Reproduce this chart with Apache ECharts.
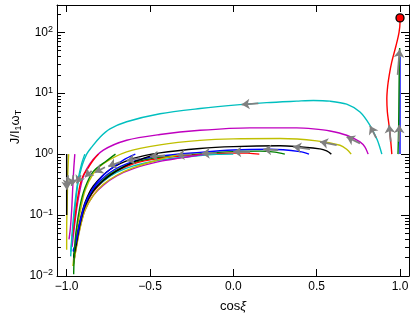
<!DOCTYPE html>
<html><head><meta charset="utf-8">
<script src="https://cdn.jsdelivr.net/npm/echarts@6/dist/echarts.min.js"></script>
<style>html,body{margin:0;padding:0;background:#fff}#c{width:416px;height:318px}</style>
</head><body><div id="c"></div>
<script>
// ---- data ----
const xTicks = [-1.0, -0.5, 0.0, 0.5, 1.0];
const yMajorTicks = [0.01, 0.1, 1, 10, 100];
const yMinorTicks = [0.02,0.03,0.04,0.05,0.06,0.07,0.08,0.09,
  0.2,0.3,0.4,0.5,0.6,0.7,0.8,0.9,
  2,3,4,5,6,7,8,9,
  20,30,40,50,60,70,80,90,200];

// trajectories (cos xi, J / I1 omega_T), one per starting obliquity
const traj00 = [[1.0,1],[1.0,3],[1.0,10],[1.0,40]];
const traj01 = [[0.988,1],[0.992,3],[0.994,10],[0.996,30],[0.998,55]];
const traj02 = [[0.951,1],[0.943,1.8],[0.934,3],[0.924,5],[0.921,8.1],[0.926,13],[0.935,19.5],[0.95,32],[0.976,60],[0.994,99],[1.0,145],[1.0,172]];
const traj03 = [[0.891,1],[0.875,1.4],[0.86,1.8],[0.82,2.97],[0.76,4.9],[0.68,6.6],[0.58,7.4],[0.48,7.6],[0.38,7.4],[0.2,7.0],[0.04,6.5],[-0.2,5.6],[-0.44,4.6],[-0.64,3.4],[-0.74,2.6],[-0.8,1.9],[-0.85,1.3],[-0.88,1.0],[-0.905,0.68],[-0.92,0.48],[-0.935,0.3],[-0.95,0.13],[-0.962,0.06],[-0.972,0.03],[-0.976,0.021]];
const traj04 = [[0.809,1],[0.79,1.3],[0.76,1.59],[0.68,2.04],[0.58,2.4],[0.48,2.6],[0.38,2.7],[0.1,2.7],[-0.2,2.46],[-0.44,2.1],[-0.64,1.69],[-0.78,1.16],[-0.86,0.7],[-0.9,0.43],[-0.925,0.22],[-0.945,0.1],[-0.958,0.05],[-0.968,0.03]];
const traj05 = [[0.707,1],[0.68,1.2],[0.64,1.4],[0.5,1.65],[0.28,1.8],[0.0,1.78],[-0.2,1.68],[-0.44,1.42],[-0.64,1.09],[-0.78,0.7],[-0.84,0.48],[-0.89,0.25],[-0.92,0.11],[-0.945,0.045],[-0.962,0.0146]];
const traj06 = [[0.588,1],[0.56,1.13],[0.52,1.22],[0.28,1.37],[0.0,1.33],[-0.2,1.24],[-0.44,1.05],[-0.6,0.85],[-0.74,0.56],[-0.84,0.3],[-0.89,0.16],[-0.92,0.08],[-0.945,0.035],[-0.958,0.02]];
const traj07 = [[0.454,1.0],[0.4,1.1],[0.22,1.2],[0.0,1.17],[-0.2,1.07],[-0.44,0.93],[-0.6,0.76],[-0.74,0.5],[-0.84,0.27],[-0.89,0.15],[-0.92,0.075],[-0.945,0.035],[-0.96,0.025]];
const traj08 = [[0.309,1.0],[0.25,1.08],[0.16,1.12],[0.0,1.1],[-0.2,1.01],[-0.44,0.88],[-0.6,0.72],[-0.74,0.47],[-0.84,0.25],[-0.89,0.14],[-0.92,0.07],[-0.945,0.03],[-0.955,0.02]];
const traj09 = [[0.156,1.0],[0.04,1.05],[-0.2,0.98],[-0.44,0.85],[-0.6,0.69],[-0.74,0.44],[-0.84,0.24],[-0.89,0.13],[-0.92,0.065],[-0.945,0.028],[-0.956,0.018]];
const traj10 = [[0.0,1.0],[-0.1,0.99],[-0.2,0.95],[-0.32,0.88],[-0.44,0.8],[-0.6,0.64],[-0.7,0.5],[-0.78,0.36],[-0.84,0.25],[-0.89,0.14],[-0.92,0.07],[-0.945,0.03],[-0.958,0.016]];
const traj11 = [[-0.156,1.0],[-0.22,0.95],[-0.32,0.86],[-0.44,0.76],[-0.6,0.58],[-0.7,0.44],[-0.78,0.31],[-0.84,0.21],[-0.89,0.12],[-0.92,0.062],[-0.945,0.027],[-0.957,0.017]];
const traj12 = [[-0.309,1.0],[-0.36,0.93],[-0.44,0.82],[-0.6,0.6],[-0.7,0.45],[-0.78,0.32],[-0.84,0.21],[-0.89,0.12],[-0.92,0.06],[-0.945,0.026],[-0.96,0.0146]];
const traj13 = [[-0.454,1.0],[-0.5,0.93],[-0.6,0.74],[-0.7,0.53],[-0.78,0.37],[-0.84,0.25],[-0.89,0.14],[-0.92,0.07],[-0.945,0.03],[-0.958,0.02]];
const traj14 = [[-0.588,1.0],[-0.66,0.8],[-0.74,0.56],[-0.78,0.45],[-0.84,0.28],[-0.89,0.15],[-0.92,0.075],[-0.945,0.035],[-0.962,0.026]];
const traj15 = [[-0.707,1.0],[-0.76,0.78],[-0.84,0.52],[-0.89,0.28],[-0.92,0.14],[-0.945,0.05],[-0.955,0.02],[-0.958,0.0107]];
const traj16 = [[-0.809,1.0],[-0.84,0.8],[-0.87,0.6],[-0.9,0.45],[-0.92,0.31],[-0.94,0.15],[-0.955,0.07],[-0.966,0.045]];
const traj17 = [[-0.891,1.0],[-0.91,0.7],[-0.93,0.4],[-0.95,0.16],[-0.965,0.06],[-0.975,0.025]];
const traj18 = [[-0.951,1.0],[-0.957,0.6],[-0.963,0.3],[-0.97,0.12],[-0.978,0.06],[-0.986,0.04]];
const traj19 = [[-0.988,1.0],[-0.993,0.5],[-0.997,0.15],[-1.0,0.06],[-1.0,0.027]];
const traj20 = [[-1.0,1.0],[-1.0,0.3],[-1.0,0.1]];

// direction arrows: [cos tail, J tail, cos head, J head]
const arrows = [
  [0.944,1.6,0.935,3.0],[0.994,1.6,0.996,3.0],[0.986,20,0.998,52],
  [0.857,1.85,0.82,2.9],[0.76,1.5,0.68,1.92],[0.62,1.4,0.52,1.59],
  [0.46,1.21,0.36,1.32],[0.27,1.16,0.18,1.19],[0.1,1.08,0.0,1.09],
  [0.15,6.8,0.05,6.5],
  [-0.10,1.04,-0.19,1.02],[-0.25,0.99,-0.34,0.96],[-0.41,0.95,-0.5,0.91],
  [-0.56,0.86,-0.64,0.78],[-0.68,0.74,-0.75,0.63],[-0.77,0.61,-0.83,0.5],
  [-0.85,0.53,-0.89,0.42],[-0.915,0.45,-0.94,0.33],[-0.96,0.45,-0.97,0.3],
  [-0.992,0.45,-0.995,0.28],[-1.0,0.42,-1.0,0.26]
];
const endPoint = [[1.0, 172]];

// ---- styles ----
const cycleColors = ['#0000ff','#008000','#ff0000','#00bfbf','#bf00bf','#bfbf00','#000000'];
const FONT = '"Liberation Sans", Arial, Helvetica, sans-serif';
const trajectories = [traj00,traj01,traj02,traj03,traj04,traj05,traj06,traj07,traj08,traj09,traj10,
  traj11,traj12,traj13,traj14,traj15,traj16,traj17,traj18,traj19,traj20];

const series = trajectories.map((d, i) => ({
  type: 'line', data: d, showSymbol: false, symbol: 'none', smooth: 0.3,
  lineStyle: { color: cycleColors[i % 7], width: 1.4 }, z: 2, silent: true, animation: false
}));
series.push({
  type: 'lines', coordinateSystem: 'cartesian2d', symbol: ['none', 'arrow'], symbolSize: 8,
  lineStyle: { color: '#808080', width: 1.8, opacity: 1, curveness: 0 },
  itemStyle: { color: '#808080' },
  data: arrows.map(a => ({ coords: [[a[0], a[1]], [a[2], a[3]]] })),
  z: 3, silent: true, animation: false
});
series.push({
  type: 'scatter', data: endPoint, symbolSize: 8,
  itemStyle: { color: '#ff0000', borderColor: '#000', borderWidth: 1.3, opacity: 1 },
  z: 4, silent: true, animation: false
});

const xMin = -1.058, xMax = 1.054, yMin = 0.01, yMax = 280;
const fmtX = v => (v < 0 ? '\u2212' : '') + Math.abs(v).toFixed(1);
const fmtY = v => { const e = Math.round(Math.log10(v)); return '{b|10}{s|' + (e < 0 ? '\u2212' : '') + Math.abs(e) + '}'; };
const axisLine = { show: true, onZero: false, lineStyle: { color: '#000', width: 1 } };
const yRich = { b: { fontSize: 12, lineHeight: 15, fontFamily: FONT, color: '#000' },
                s: { fontSize: 9, lineHeight: 9, verticalAlign: 'top', fontFamily: FONT, color: '#000' } };

function yAx(pos, values, len, labels, line) {
  return {
    type: 'log', logBase: 10, min: yMin, max: yMax, position: pos,
    axisLine: Object.assign({}, axisLine, { show: line }),
    axisTick: { show: true, inside: true, length: len, customValues: values, lineStyle: { color: '#000', width: 1 } },
    axisLabel: labels ? { show: true, customValues: values, formatter: fmtY, margin: 4, rich: yRich } : { show: false },
    splitLine: { show: false }, minorTick: { show: false }
  };
}

const option = {
  animation: false,
  backgroundColor: '#fff',
  grid: { left: 57, right: 7, top: 5, bottom: 40, containLabel: false },
  xAxis: [
    { type: 'value', min: xMin, max: xMax, position: 'bottom', axisLine,
      axisTick: { inside: true, length: 7, customValues: xTicks, lineStyle: { color: '#000' } },
      axisLabel: { customValues: xTicks, formatter: fmtX, margin: 5, fontSize: 12, fontFamily: FONT, color: '#000' },
      splitLine: { show: false },
      name: '{a|cos}{b|\u03be}', nameLocation: 'middle', nameGap: 24,
      nameTextStyle: { rich: { a: { fontSize: 13, fontFamily: FONT, color: '#000' },
                               b: { fontSize: 13, fontFamily: FONT, fontStyle: 'italic', color: '#000' } } } },
    { type: 'value', min: xMin, max: xMax, position: 'top', axisLine,
      axisTick: { inside: true, length: 7, customValues: xTicks, lineStyle: { color: '#000' } },
      axisLabel: { show: false }, splitLine: { show: false } }
  ],
  yAxis: [
    yAx('left', yMajorTicks, 8, true, true),
    yAx('left', yMinorTicks, 4, false, false),
    yAx('right', yMajorTicks, 8, false, true),
    yAx('right', yMinorTicks, 4, false, false)
  ],
  graphic: [{
    type: 'text', x: 15, y: 127, rotation: Math.PI / 2,
    style: {
      text: '{a|J/I}{s|1}{a|\u03c9}{s|T}', align: 'center', verticalAlign: 'middle', fill: '#000',
      rich: { a: { fontSize: 13, lineHeight: 16, fontFamily: FONT, fill: '#000' },
              s: { fontSize: 9, lineHeight: 9, verticalAlign: 'bottom', fontFamily: FONT, fill: '#000' } }
    }
  }],
  series
};
const chart = echarts.init(document.getElementById('c'), null, { renderer: 'canvas' });
chart.setOption(option);
</script></body></html>
